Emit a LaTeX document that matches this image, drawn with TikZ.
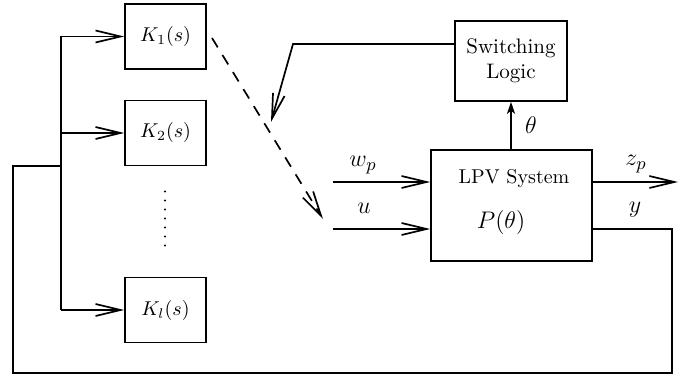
\documentclass[tikz,border=0pt]{standalone}
\usetikzlibrary{arrows.meta}
\begin{document}
\begin{tikzpicture}[x=0.5pt,y=-0.5pt,
  every path/.style={line width=0.85pt},
  blk/.style={draw,line width=0.8pt,inner sep=0pt,align=center},
  kbox/.style={blk,minimum width=40.5pt,minimum height=32.5pt},
  arr/.style={-{Straight Barb[length=12.5pt,width=6pt]}},
  smallarr/.style={-{Stealth[length=6pt,width=4pt,inset=1.5pt]}},
  lbl/.style={inner sep=0pt,font=\fontsize{13}{15}\selectfont}]
\useasboundingbox (0,0) rectangle (688,378);

% controller bank
\node[kbox] (K1) at (165.5,36.5) {$K_1(s)$};
\node[kbox] (K2) at (165.5,133) {$K_2(s)$};
\node[kbox] (Kl) at (165.5,310) {$K_l(s)$};
\node[inner sep=0pt] (dots) at (165,218.5) {%
  \tikz[x=0.5pt,y=-0.5pt]{\foreach \i in {0,...,6} \fill (0,9*\i) circle (0.6pt);}};

% plant and switching logic
\node[blk,minimum width=56pt,minimum height=40pt,font=\fontsize{10.5}{12.5}\selectfont] (SL) at (511,61) {Switching\\Logic};
\node[blk,minimum width=80.5pt,minimum height=55.5pt] (P) at (511.5,205.5) {};
\node[inner sep=0pt] (Ptxt) at (514,179) {LPV System};
\node[lbl] (Pth) at (501,223) {$P(\theta)$};

% signal points
\coordinate (bt) at (61,36.5);
\coordinate (bm) at (61,133);
\coordinate (bb) at (61,310);
\coordinate (bj) at (61,166);
\coordinate (wpin) at (333,182);
\coordinate (uin) at (333,229);
\coordinate (zout) at (678,182);
\coordinate (yc) at (672,229);
\coordinate (fr) at (672,373);
\coordinate (fl) at (13,373);
\coordinate (ft) at (13,166);
\coordinate (sw1) at (293,44);
\coordinate (sw2) at (271,122);
\coordinate (ds) at (212,38);
\coordinate (de) at (323,219);

% distribution bus to the controllers
\draw (bt) -- (bb);
\draw[arr] (bt) -- (K1.west);
\draw[arr] (bm) -- (K2.west);
\draw[arr] (bb) -- (Kl.west);

% plant inputs and outputs
\draw[arr] (wpin) -- (wpin -| P.west);
\draw[arr] (uin) -- (uin -| P.west);
\draw[arr] (zout -| P.east) -- (zout);
\draw (yc -| P.east) -- (yc) -- (fr) -- (fl) -- (ft) -- (bj);
\draw[smallarr] (P.north -| SL.south) -- (SL.south);

% switching action
\draw[arr] (SL.west |- sw1) -- (sw1) -- (sw2);
\draw[arr,dash pattern=on 5.5pt off 4.5pt] (ds) -- (de);

% signal labels
\node[lbl] (lwp) at (363,165) {$w_p$};
\node[lbl] (lu) at (364,208) {$u$};
\node[lbl] (lzp) at (636,164) {$z_p$};
\node[lbl] (ly) at (635,210) {$y$};
\node[lbl] (lth) at (531,125) {$\theta$};
\end{tikzpicture}
\end{document}
